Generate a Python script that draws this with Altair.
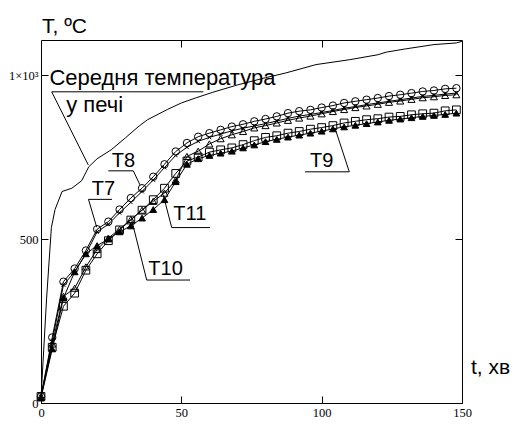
import altair as alt
import pandas as pd

# ---------------- data ----------------
t_min = [0, 4, 8, 12, 16, 20, 24, 28, 32, 36, 40, 44, 48, 52, 56, 60, 64, 68, 72, 76,
         80, 84, 88, 92, 96, 100, 104, 108, 112, 116, 120, 124, 128, 132, 136, 140, 144, 148]

T8 = [20, 200, 370, 410, 465, 530, 553, 590, 625, 655, 690, 728, 767, 793, 812, 823, 833, 843, 850, 859,
      866, 874, 884, 890, 894, 901, 907, 915, 920, 925, 930, 936, 940, 945, 950, 953, 958, 960]
T7 = [20, 190, 360, 400, 455, 522, 545, 580, 612, 645, 680, 718, 755, 780, 798, 810, 820, 830, 838, 845,
      852, 860, 868, 875, 880, 886, 892, 899, 904, 910, 915, 920, 925, 930, 935, 938, 942, 945]
T11 = [20, 180, 325, 350, 415, 468, 503, 530, 560, 588, 615, 640, 680, 752, 768, 790, 806, 818, 828, 839,
       846, 854, 862, 869, 875, 882, 889, 895, 901, 906, 911, 917, 921, 926, 931, 934, 938, 940]
T10 = [20, 170, 295, 335, 405, 455, 495, 528, 558, 588, 620, 655, 700, 738, 750, 765, 772, 778, 788, 800,
       810, 815, 823, 828, 835, 840, 846, 854, 859, 864, 867, 872, 874, 879, 882, 884, 891, 894]
T9 = [15, 165, 320, 400, 455, 480, 500, 522, 540, 564, 590, 620, 675, 728, 745, 755, 762, 768, 778, 787,
      797, 804, 811, 817, 823, 829, 836, 842, 847, 852, 857, 862, 866, 870, 874, 877, 880, 884]

furnace_t = [0, 2, 3.7, 5, 7.5, 11, 14.5, 17, 20, 25, 30, 35, 38, 45, 50, 55, 61, 70, 80, 87,
             98, 110, 120, 123, 130, 140, 148, 150]
furnace_T = [15, 320, 535, 590, 645, 655, 678, 720, 745, 772, 808, 845, 864, 895, 915, 930, 947, 970, 992, 1006,
             1032, 1047, 1062, 1070, 1080, 1093, 1098, 1103]

# annotation texts (left/baseline anchor, in data units)
ann_text = ["Середня температура", "у печі", "T8", "T7", "T11", "T10", "T9"]
ann_t = [3.0, 9.0, 25.2, 18.06, 47.14, 38.23, 95.84]
ann_T = [971, 887, 720, 634, 558, 390, 720]
ann_size = [22, 22, 20, 20, 20, 20, 20]

# leader / underline segments
seg_t1 = [3.81, 3.81, 23.98, 32.89, 16.92, 16.92, 46.57, 46.57, 37.66, 37.66, 94.06, 109.85]
seg_T1 = [949, 949, 708, 708, 621, 621, 535, 535, 375, 375, 705, 705]
seg_t2 = [57.83, 16.85, 32.89, 35.27, 25.30, 19.85, 60.21, 43.57, 53.09, 32.32, 109.85, 104.75]
seg_T2 = [949, 726, 708, 665, 621, 536, 535, 634, 375, 558, 705, 838]

x_ticks = [0, 50, 100, 150]
y_ticks = [0, 500, 1000]

# ---------------- chart ----------------
LABEL_FONT = "Liberation Serif"
TEXT_FONT = "Liberation Sans"

xs = alt.Scale(domain=[0, 150], nice=False, zero=False)
ys = alt.Scale(domain=[0, 1107], nice=False, zero=False)

series = {"T7": T7, "T8": T8, "T9": T9, "T10": T10, "T11": T11}
rows = []
for name, vals in series.items():
    for tt, vv in zip(t_min, vals):
        rows.append({"t": tt, "T": vv, "s": name})
df = pd.DataFrame(rows)

furn = pd.DataFrame({"t": furnace_t, "T": furnace_T})
ann = pd.DataFrame({"label": ann_text, "t": ann_t, "T": ann_T, "fs": ann_size})
seg = pd.DataFrame({"t1": seg_t1, "T1": seg_T1, "t2": seg_t2, "T2": seg_T2})
one = pd.DataFrame({"a": [0]})

x_bottom = alt.Axis(orient="bottom", values=x_ticks, offset=-7, tickSize=7, domain=False, grid=False,
                    labelFlush=False, labelPadding=3, labelFont=LABEL_FONT, labelFontSize=12.5,
                    labelColor="black", tickColor="black", tickWidth=1, title=None, labelOverlap=False)
y_left = alt.Axis(orient="left", values=y_ticks, offset=-7, tickSize=7, domain=False, grid=False,
                  labelFlush=False, labelPadding=3, labelFont=LABEL_FONT, labelFontSize=12.5,
                  labelColor="black", tickColor="black", tickWidth=1, title=None, labelOverlap=False,
                  labelExpr="datum.value == 1000 ? '1×10³' : datum.label")
x_top = alt.Axis(orient="top", values=[50, 100], offset=-7, tickSize=7, domain=False, grid=False,
                 labels=False, tickColor="black", tickWidth=1, title=None)
y_right = alt.Axis(orient="right", values=[500, 1000], offset=-7, tickSize=7, domain=False, grid=False,
                   labels=False, tickColor="black", tickWidth=1, title=None)

furnace_line = alt.Chart(furn).mark_line(color="black", strokeWidth=1).encode(
    x=alt.X("t:Q", scale=xs, axis=x_bottom),
    y=alt.Y("T:Q", scale=ys, axis=y_left),
)

series_lines = alt.Chart(df).mark_line(color="black", strokeWidth=1).encode(
    x=alt.X("t:Q", scale=xs, axis=x_top),
    y=alt.Y("T:Q", scale=ys, axis=y_right),
    detail="s:N",
)

def pts(name, shape, filled, size):
    return alt.Chart(df[df["s"] == name]).mark_point(
        shape=shape, filled=filled, size=size, color="black",
        fill="black" if filled else "transparent", stroke="black", strokeWidth=1, opacity=1
    ).encode(
        x=alt.X("t:Q", scale=xs, axis=None),
        y=alt.Y("T:Q", scale=ys, axis=None),
    )

p8 = pts("T8", "circle", False, 55)
p7 = pts("T7", "M-1,-1L1,1M-1,1L1,-1", False, 14)
p11 = pts("T11", "triangle-up", False, 50)
p10 = pts("T10", "square", False, 60)
p9 = pts("T9", "triangle-up", True, 45)

rules = alt.Chart(seg).mark_rule(color="black", strokeWidth=1).encode(
    x=alt.X("t1:Q", scale=xs, axis=None),
    y=alt.Y("T1:Q", scale=ys, axis=None),
    x2="t2:Q",
    y2="T2:Q",
)

texts = alt.Chart(ann).mark_text(font=TEXT_FONT, color="black", align="left",
                                 baseline="alphabetic").encode(
    x=alt.X("t:Q", scale=xs, axis=None),
    y=alt.Y("T:Q", scale=ys, axis=None),
    text="label:N",
    size=alt.Size("fs:Q", scale=None, legend=None),
)

ytitle = alt.Chart(one).mark_text(text="T, ºC", font=TEXT_FONT, fontSize=21, color="black",
                                  align="left", baseline="alphabetic").encode(
    x=alt.value(1), y=alt.value(-7))
xtitle = alt.Chart(one).mark_text(text="t, хв", font=TEXT_FONT, fontSize=21, color="black",
                                  align="left", baseline="alphabetic").encode(
    x=alt.value(430), y=alt.value(334))

chart = alt.layer(
    furnace_line, series_lines, p8, p7, p11, p10, p9, rules, texts, ytitle, xtitle
).resolve_axis(x="independent", y="independent").properties(
    width=421, height=363,
    autosize=alt.AutoSizeParams(type="none"),
    padding={"left": 41, "top": 40, "right": 54, "bottom": 22},
    background="white",
).configure_view(stroke="black", strokeWidth=1)

chart.save("out.html", embed_options={"renderer": "svg", "actions": False})
